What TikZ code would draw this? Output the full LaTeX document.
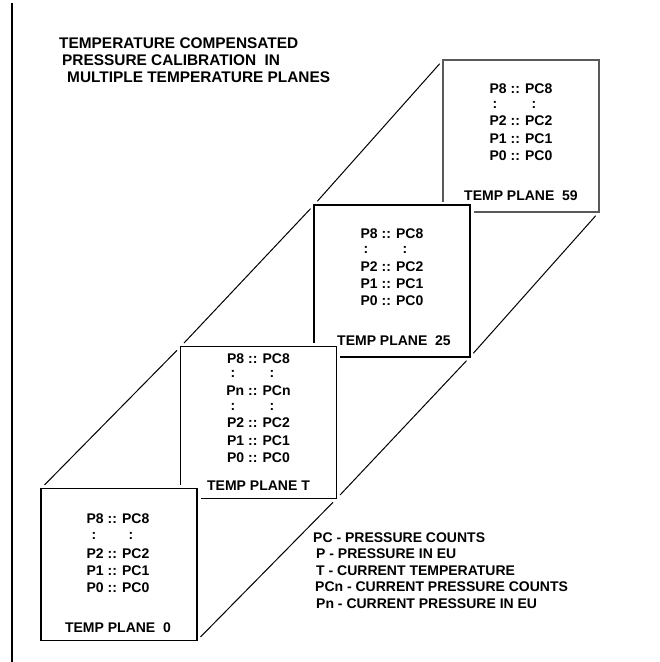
\documentclass[tikz,border=0pt]{standalone}
\usepackage{fontspec}
\setmainfont{Liberation Sans}
\begin{document}
\begin{tikzpicture}[x=1pt,y=-1pt,
  plane/.style={draw=black, line width=1.3pt, fill=white, minimum width=156pt, minimum height=152pt, inner sep=0pt, outer sep=0pt, preaction={draw=white, line width=7pt}},
  txt/.style={inner sep=0pt, anchor=base, font=\fontsize{14}{16}\selectfont\bfseries},
  ltxt/.style={txt, anchor=base west},
  ttxt/.style={ltxt, font=\fontsize{15.4}{17}\selectfont\bfseries},
  diag/.style={draw=black, line width=1pt, shorten <=5pt, shorten >=5pt}]
\useasboundingbox (0,0) rectangle (660,662);
\coordinate (vtop) at (12,3);
\coordinate (vbot) at (12,662);
\draw[line width=1.3pt] (vtop) -- (vbot);
% title
\node[ttxt] (ti1) at (59,48) {TEMPERATURE COMPENSATED};
\node[ttxt] (ti2) at (62,65) {PRESSURE CALIBRATION\ \ IN};
\node[ttxt] (ti3) at (67,82) {MULTIPLE TEMPERATURE PLANES};
% plane 59
\node[plane, draw=black!65] (b59) at (521,136) {};
\node[txt] (a1) at (521,93) {P8 :: PC8};
\node[txt] (a2) at (495,108) {:};
\node[txt] (a3) at (534,108) {:};
\node[txt] (a4) at (521,125.5) {P2 :: PC2};
\node[txt] (a5) at (521,143.5) {P1 :: PC1};
\node[txt] (a6) at (521,160.5) {P0 :: PC0};
\node[txt] (a7) at (521,200.5) {TEMP PLANE\ \ 59};
% plane 25
\node[plane] (b25) at (392,281) {};
\node[txt] (c1) at (392,238) {P8 :: PC8};
\node[txt] (c2) at (366,253) {:};
\node[txt] (c3) at (405,253) {:};
\node[txt] (c4) at (392,271) {P2 :: PC2};
\node[txt] (c5) at (392,288.5) {P1 :: PC1};
\node[txt] (c6) at (392,305.5) {P0 :: PC0};
\node[txt] (c7) at (394,345.5) {TEMP PLANE\ \ 25};
% plane T
\node[plane] (bT) at (258.5,422.75) {};
\node[txt] (d1) at (258.5,363) {P8 :: PC8};
\node[txt] (d2) at (233,377) {:};
\node[txt] (d3) at (272,377) {:};
\node[txt] (d4) at (258.5,395) {Pn :: PCn};
\node[txt] (d5) at (233,410) {:};
\node[txt] (d6) at (272,410) {:};
\node[txt] (d7) at (258.5,427) {P2 :: PC2};
\node[txt] (d8) at (258.5,445) {P1 :: PC1};
\node[txt] (d9) at (258.5,462) {P0 :: PC0};
\node[txt] (d10) at (258.5,490) {TEMP PLANE\ T};
% plane 0
\node[plane] (b0) at (119,564.5) {};
\node[txt] (e1) at (118,523.5) {P8 :: PC8};
\node[txt] (e2) at (94,539.5) {:};
\node[txt] (e3) at (131,539.5) {:};
\node[txt] (e4) at (118,558) {P2 :: PC2};
\node[txt] (e5) at (118,575) {P1 :: PC1};
\node[txt] (e6) at (118,592) {P0 :: PC0};
\node[txt] (e7) at (118,632) {TEMP PLANE\ \ 0};
% diagonals
\draw[diag] (b0.north west) -- (bT.north west);
\draw[diag] (bT.north west) -- (b25.north west);
\draw[diag] (b25.north west) -- (b59.north west);
\draw[diag] (b0.south east) -- (bT.south east);
\draw[diag] (bT.south east) -- (b25.south east);
\draw[diag] (b25.south east) -- (b59.south east);
% legend
\node[ltxt] (l1) at (313,542) {PC - PRESSURE COUNTS};
\node[ltxt] (l2) at (316,558) {P - PRESSURE IN EU};
\node[ltxt] (l3) at (316,575) {T - CURRENT TEMPERATURE};
\node[ltxt] (l4) at (315,591.5) {PCn - CURRENT PRESSURE COUNTS};
\node[ltxt] (l5) at (316,608) {Pn - CURRENT PRESSURE IN EU};
\end{tikzpicture}
\end{document}
